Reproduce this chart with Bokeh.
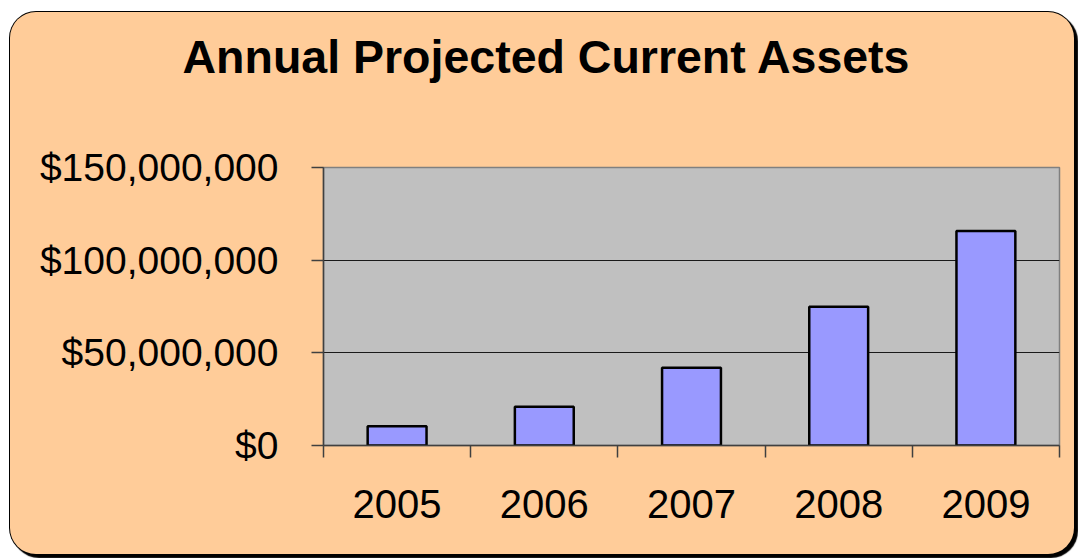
from bokeh.plotting import figure
from bokeh.models import Range1d, FixedTicker, NumeralTickFormatter, ColumnDataSource
from bokeh.embed import file_html
from bokeh.resources import INLINE

title = "Annual Projected Current Assets"
years = ["2005", "2006", "2007", "2008", "2009"]
assets = [10_400_000, 20_900_000, 42_000_000, 74_900_000, 115_700_000]
y_ticks = [0, 50_000_000, 100_000_000, 150_000_000]
grid_ticks = [50_000_000, 100_000_000]

FONT = "Liberation Sans"

n = len(years)
centers = [i + 0.5 for i in range(n)]
bounds = [float(i) for i in range(n + 1)]

p = figure(width=1064, height=542, output_backend="svg", toolbar_location=None,
           x_range=Range1d(0, n), y_range=Range1d(0, y_ticks[-1]),
           min_border_left=313, min_border_right=15, min_border_top=155, min_border_bottom=109,
           title=title + "\n")
p.border_fill_color = None
p.background_fill_color = "#C0C0C0"
p.outline_line_color = "#808080"
p.outline_line_width = 1.5
p.styles = {"margin-left": "10px", "margin-top": "12px", "background-color": "#FFCC99",
            "border-radius": "26px",
            "box-shadow": "0 0 0 1px #000000, 3px 3px 1px 1px #000000"}

p.title.align = "left"
p.title.offset = -141
p.title.standoff = 28
p.title.text_line_height = 1.36
p.title.text_font = FONT
p.title.text_font_size = "46.5px"
p.title.text_font_style = "bold"
p.title.text_color = "black"

src = ColumnDataSource(dict(x=centers, top=assets, year=years))
p.vbar(x="x", top="top", bottom=0, width=0.4, source=src,
       fill_color="#9999FF", line_color="black", line_width=2.5)

# x axis: labels at category centres, tick marks at category boundaries
xa = p.xaxis[0]
xa.ticker = FixedTicker(ticks=centers, minor_ticks=bounds)
xa.major_label_overrides = {c: y for c, y in zip(centers, years)}
xa.major_tick_line_color = None
xa.major_tick_out = 0
xa.major_tick_in = 0
xa.minor_tick_in = 0
xa.minor_tick_out = 12
xa.minor_tick_line_color = "#404040"
xa.minor_tick_line_width = 1.5
xa.axis_line_color = "#404040"
xa.axis_line_width = 1.5
xa.major_label_text_font = FONT
xa.major_label_text_font_size = "40px"
xa.major_label_text_color = "black"
xa.major_label_standoff = 32

ya = p.yaxis[0]
ya.ticker = FixedTicker(ticks=y_ticks)
ya.formatter = NumeralTickFormatter(format="$0,0")
ya.major_tick_in = 0
ya.major_tick_out = 12
ya.major_tick_line_color = "#404040"
ya.major_tick_line_width = 1.5
ya.minor_tick_line_color = None
ya.axis_line_color = "#404040"
ya.axis_line_width = 1.5
ya.major_label_text_font = FONT
ya.major_label_text_font_size = "39px"
ya.major_label_text_color = "black"
ya.major_label_standoff = 33

p.xgrid.visible = False
p.ygrid.ticker = FixedTicker(ticks=grid_ticks)
p.ygrid.grid_line_color = "#1a1a1a"
p.ygrid.grid_line_width = 1

open("out.html", "w").write(file_html(p, INLINE))
